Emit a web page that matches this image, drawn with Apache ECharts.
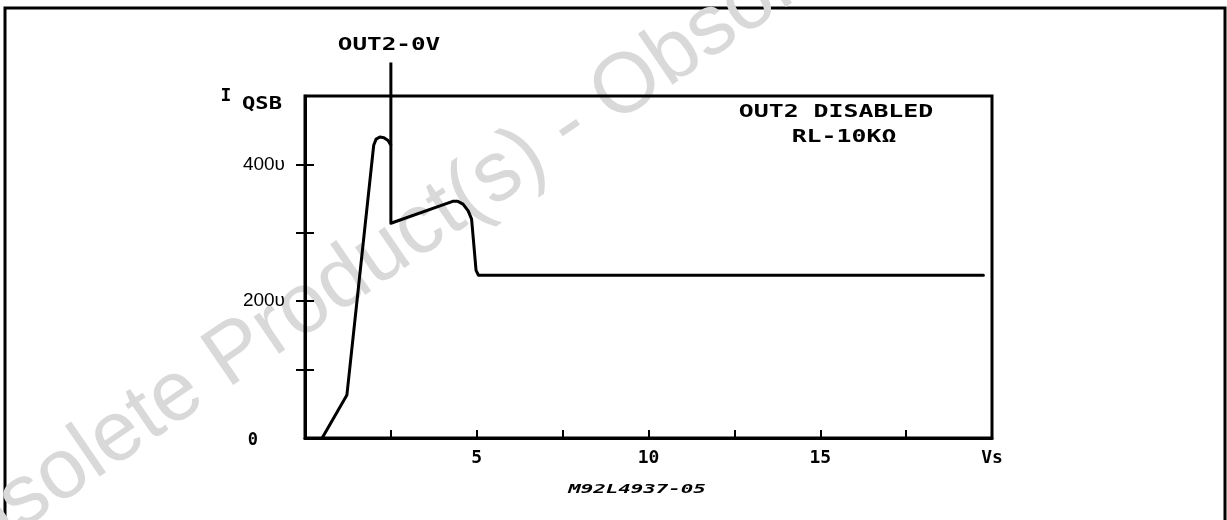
<!DOCTYPE html>
<html>
<head>
<meta charset="utf-8">
<script src="https://cdn.jsdelivr.net/npm/echarts@6/dist/echarts.min.js"></script>
<style>
  html, body { margin: 0; padding: 0; background: #fff; }
  #chart { width: 1227px; height: 520px; }
</style>
</head>
<body>
<div id="chart"></div>
<script>
// supply voltage Vs (V) vs quiescent current IQSB (uA)
const vsValues = [0.5, 1.22, 2.0, 2.07, 2.18, 2.3, 2.42, 2.5, 2.5, 4.3, 4.45, 4.6, 4.75, 4.85, 4.98, 5.05, 19.75];
const iqsbValues = [0, 63, 428, 437, 440, 439, 435, 428, 314, 346, 346, 342, 332, 320, 245, 238, 238];

// OUT2 = 0V marker line
const markerVs = [2.5, 2.5];
const markerI = [428, 549];

const xTicks = [2.5, 5, 7.5, 10, 12.5, 15, 17.5];
const xLabels = [5, 10, 15, 20];
const yTicks = [100, 200, 300, 400];
const yLabels = [0, 200, 400];

const plotFont = 'DejaVu Sans Mono';

const chart = echarts.init(document.getElementById('chart'));

const curve = vsValues.map((v, i) => [v, iqsbValues[i]]);
const marker = markerVs.map((v, i) => [v, markerI[i]]);

chart.setOption({
  animation: false,
  backgroundColor: '#fff',
  grid: {
    left: 305, top: 96, right: 235, bottom: 82,
    show: true, borderColor: '#000', borderWidth: 3
  },
  xAxis: {
    type: 'value', min: 0, max: 20,
    axisLine: { show: true, lineStyle: { color: '#000', width: 3 } },
    axisTick: { show: true, inside: true, length: 8, customValues: xTicks,
      lineStyle: { color: '#000', width: 2 } },
    axisLabel: {
      customValues: xLabels, margin: 11, color: '#000',
      fontFamily: plotFont, fontWeight: 'bold', fontSize: 18,
      formatter: v => (v === 20 ? 'Vs' : String(v))
    },
    splitLine: { show: false }
  },
  yAxis: [{
    type: 'value', min: 0, max: 500,
    axisLine: { show: true, lineStyle: { color: '#000', width: 3 } },
    axisTick: { show: true, length: 9, customValues: yTicks,
      lineStyle: { color: '#000', width: 2 } },
    axisLabel: {
      customValues: yLabels, margin: 20, color: '#000',
      fontFamily: 'Liberation Sans', fontSize: 19,
      formatter: v => (v === 0 ? '{z|0}' : v + 'υ'),
      rich: { z: { fontFamily: plotFont, fontWeight: 'bold', fontSize: 17, padding: [6, 27, 0, 0] } }
    },
    splitLine: { show: false }
  }, {
    type: 'value', min: 0, max: 500, position: 'left',
    axisLine: { show: false },
    axisTick: { show: true, inside: true, length: 9, customValues: yTicks,
      lineStyle: { color: '#000', width: 2 } },
    axisLabel: { show: false },
    splitLine: { show: false }
  }],
  graphic: [
    {
      type: 'rect', z: -10, silent: true,
      shape: { x: 5, y: 8, width: 1220, height: 540 },
      style: { fill: 'none', stroke: '#000', lineWidth: 3 }
    },
    {
      type: 'text', z: -5, silent: true,
      x: -110, y: 540, rotation: 0.6,
      style: {
        text: 'Obsolete Product(s) - Obsolete Product(s)',
        font: '85px "Liberation Sans"', fill: '#d9d9d9',
        textAlign: 'left', textVerticalAlign: 'alphabetic'
      }
    },
    {
      type: 'text', x: 389, y: 45, scaleX: 1.35,
      style: { text: 'OUT2-0V', font: 'bold 18px "DejaVu Sans Mono"', fill: '#000',
        textAlign: 'center', textVerticalAlign: 'middle' }
    },
    {
      type: 'text', x: 226, y: 96,
      style: { text: 'I', font: 'bold 18px "DejaVu Sans Mono"', fill: '#000',
        textAlign: 'center', textVerticalAlign: 'middle' }
    },
    {
      type: 'text', x: 262, y: 105, scaleX: 1.3,
      style: { text: 'QSB', font: 'bold 17px "DejaVu Sans Mono"', fill: '#000',
        textAlign: 'center', textVerticalAlign: 'middle' }
    },
    {
      type: 'text', x: 836, y: 112, scaleX: 1.38,
      style: { text: 'OUT2 DISABLED', font: 'bold 18px "DejaVu Sans Mono"', fill: '#000',
        textAlign: 'center', textVerticalAlign: 'middle' }
    },
    {
      type: 'text', x: 844, y: 137, scaleX: 1.38,
      style: { text: 'RL-10KΩ', font: 'bold 18px "DejaVu Sans Mono"', fill: '#000',
        textAlign: 'center', textVerticalAlign: 'middle' }
    },
    {
      type: 'text', x: 637, y: 490, scaleX: 1.6,
      style: { text: 'M92L4937-05', font: 'italic bold 13px "DejaVu Sans Mono"', fill: '#000',
        textAlign: 'center', textVerticalAlign: 'middle' }
    }
  ],
  series: [{
    type: 'line', data: curve, showSymbol: false,
    lineStyle: { color: '#000', width: 3, join: 'round', cap: 'round' }
  }, {
    type: 'line', data: marker, showSymbol: false, clip: false,
    lineStyle: { color: '#000', width: 3 }
  }]
});
</script>
</body>
</html>
